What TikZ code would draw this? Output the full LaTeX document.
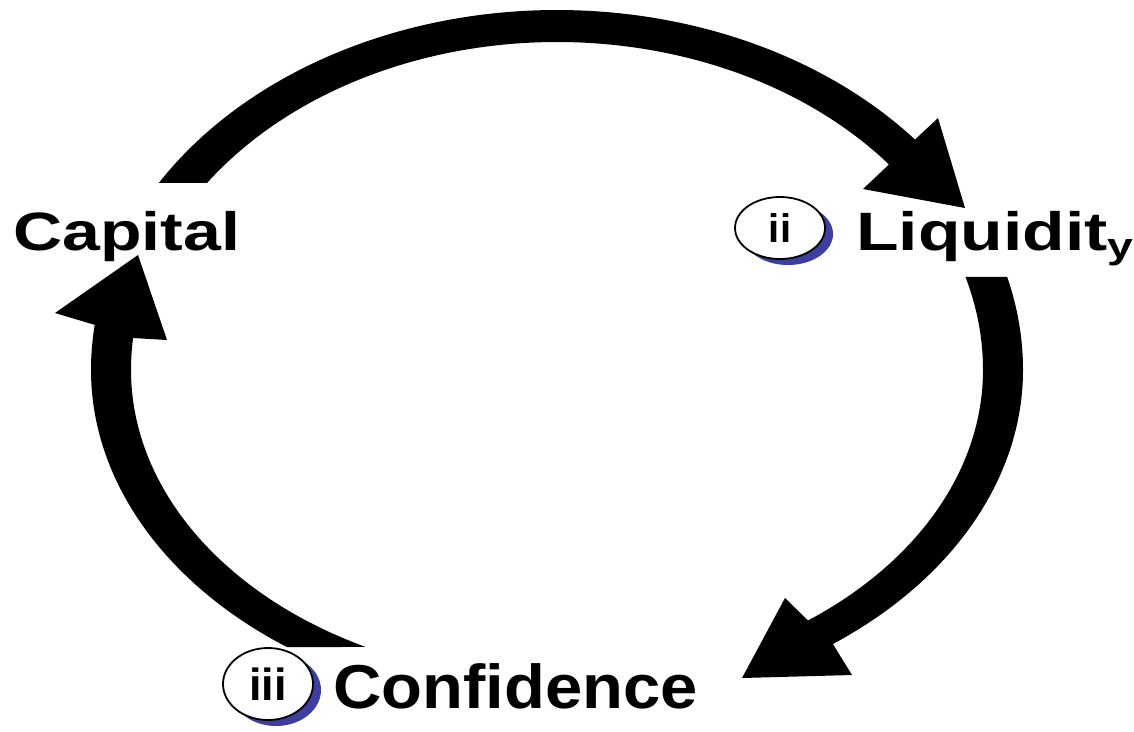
\documentclass[tikz,border=0pt]{standalone}
\usepackage{fontspec}
\setmainfont{Liberation Sans}
\usetikzlibrary{shapes.geometric,calc}
\definecolor{shadowblue}{RGB}{62,62,160}
\begin{document}
\begin{tikzpicture}[x=1pt,y=-1pt,
  arrowbody/.style={fill=black},
  wordlabel/.style={inner sep=0pt, anchor=base west, font=\bfseries},
  badge/.style={ellipse, draw=black, line width=1.8pt, fill=white, inner sep=0pt,
                minimum width=90pt, minimum height=#1, font=\bfseries},
  badgeshadow/.style={ellipse, fill=shadowblue, inner sep=0pt,
                minimum width=90pt, minimum height=#1}]
\useasboundingbox (0,0) rectangle (1134,731);
\fill[white] (0,0) rectangle (1134,731);
\coordinate (c) at (557,370);

% top arrow: Capital -> Liquidity
\fill[arrowbody] ($(c)+(211.3:466 and 360)$)
  arc[start angle=211.3, end angle=320.2, x radius=466, y radius=360]
  -- (938,118) -- (965,208) -- (863,189)
  -- ($(c)+(321.2:426 and 328)$)
  arc[start angle=321.2, end angle=214.8, x radius=426, y radius=328] -- cycle;

% right arrow: Liquidity -> Confidence
\fill[arrowbody] ($(c)+(-15:466 and 360)$)
  arc[start angle=-15, end angle=0, x radius=466, y radius=360]
  arc[start angle=0, end angle=53.7, x radius=466, y radius=340]
  -- (852,675) -- (742,678) -- (785,598)
  -- ($(c)+(53.9:426 and 310)$)
  arc[start angle=53.9, end angle=0, x radius=426, y radius=310]
  arc[start angle=0, end angle=-16.5, x radius=426, y radius=328] -- cycle;

% left arrow: Confidence -> Capital
\fill[arrowbody] ($(c)+(125.4:466 and 340)$)
  arc[start angle=125.4, end angle=180, x radius=466, y radius=340]
  arc[start angle=180, end angle=187.2, x radius=466, y radius=360]
  -- (55,313) -- (138,255) -- (167,340)
  -- ($(c)+(185.6:426 and 328)$)
  arc[start angle=185.6, end angle=180, x radius=426, y radius=328]
  arc[start angle=180, end angle=116.7, x radius=426, y radius=310] -- cycle;

% labels
\node[wordlabel] (capital) at (13,250) {\fontsize{54}{60}\selectfont\scalebox{1.26}[1]{Capital}};
\node[wordlabel] (liquidity) at (856,250) {\fontsize{54}{60}\selectfont\scalebox{1.29}[1]{Liquidit\raisebox{-8pt}{\fontsize{36}{40}\selectfont y}}};
\node[wordlabel] (confidence) at (333,708) {\fontsize{62}{70}\selectfont\scalebox{1.08}[1]{Confidence}};

% badges
\node[badgeshadow=62pt] (iishadow) at (788,234) {};
\node[badge=62pt] (ii) at (780,228) {\fontsize{40}{40}\selectfont ii};
\node[badgeshadow=72pt] (iiishadow) at (276,690) {};
\node[badge=72pt] (iii) at (268,684) {\fontsize{45}{46}\selectfont iii};
\end{tikzpicture}
\end{document}
